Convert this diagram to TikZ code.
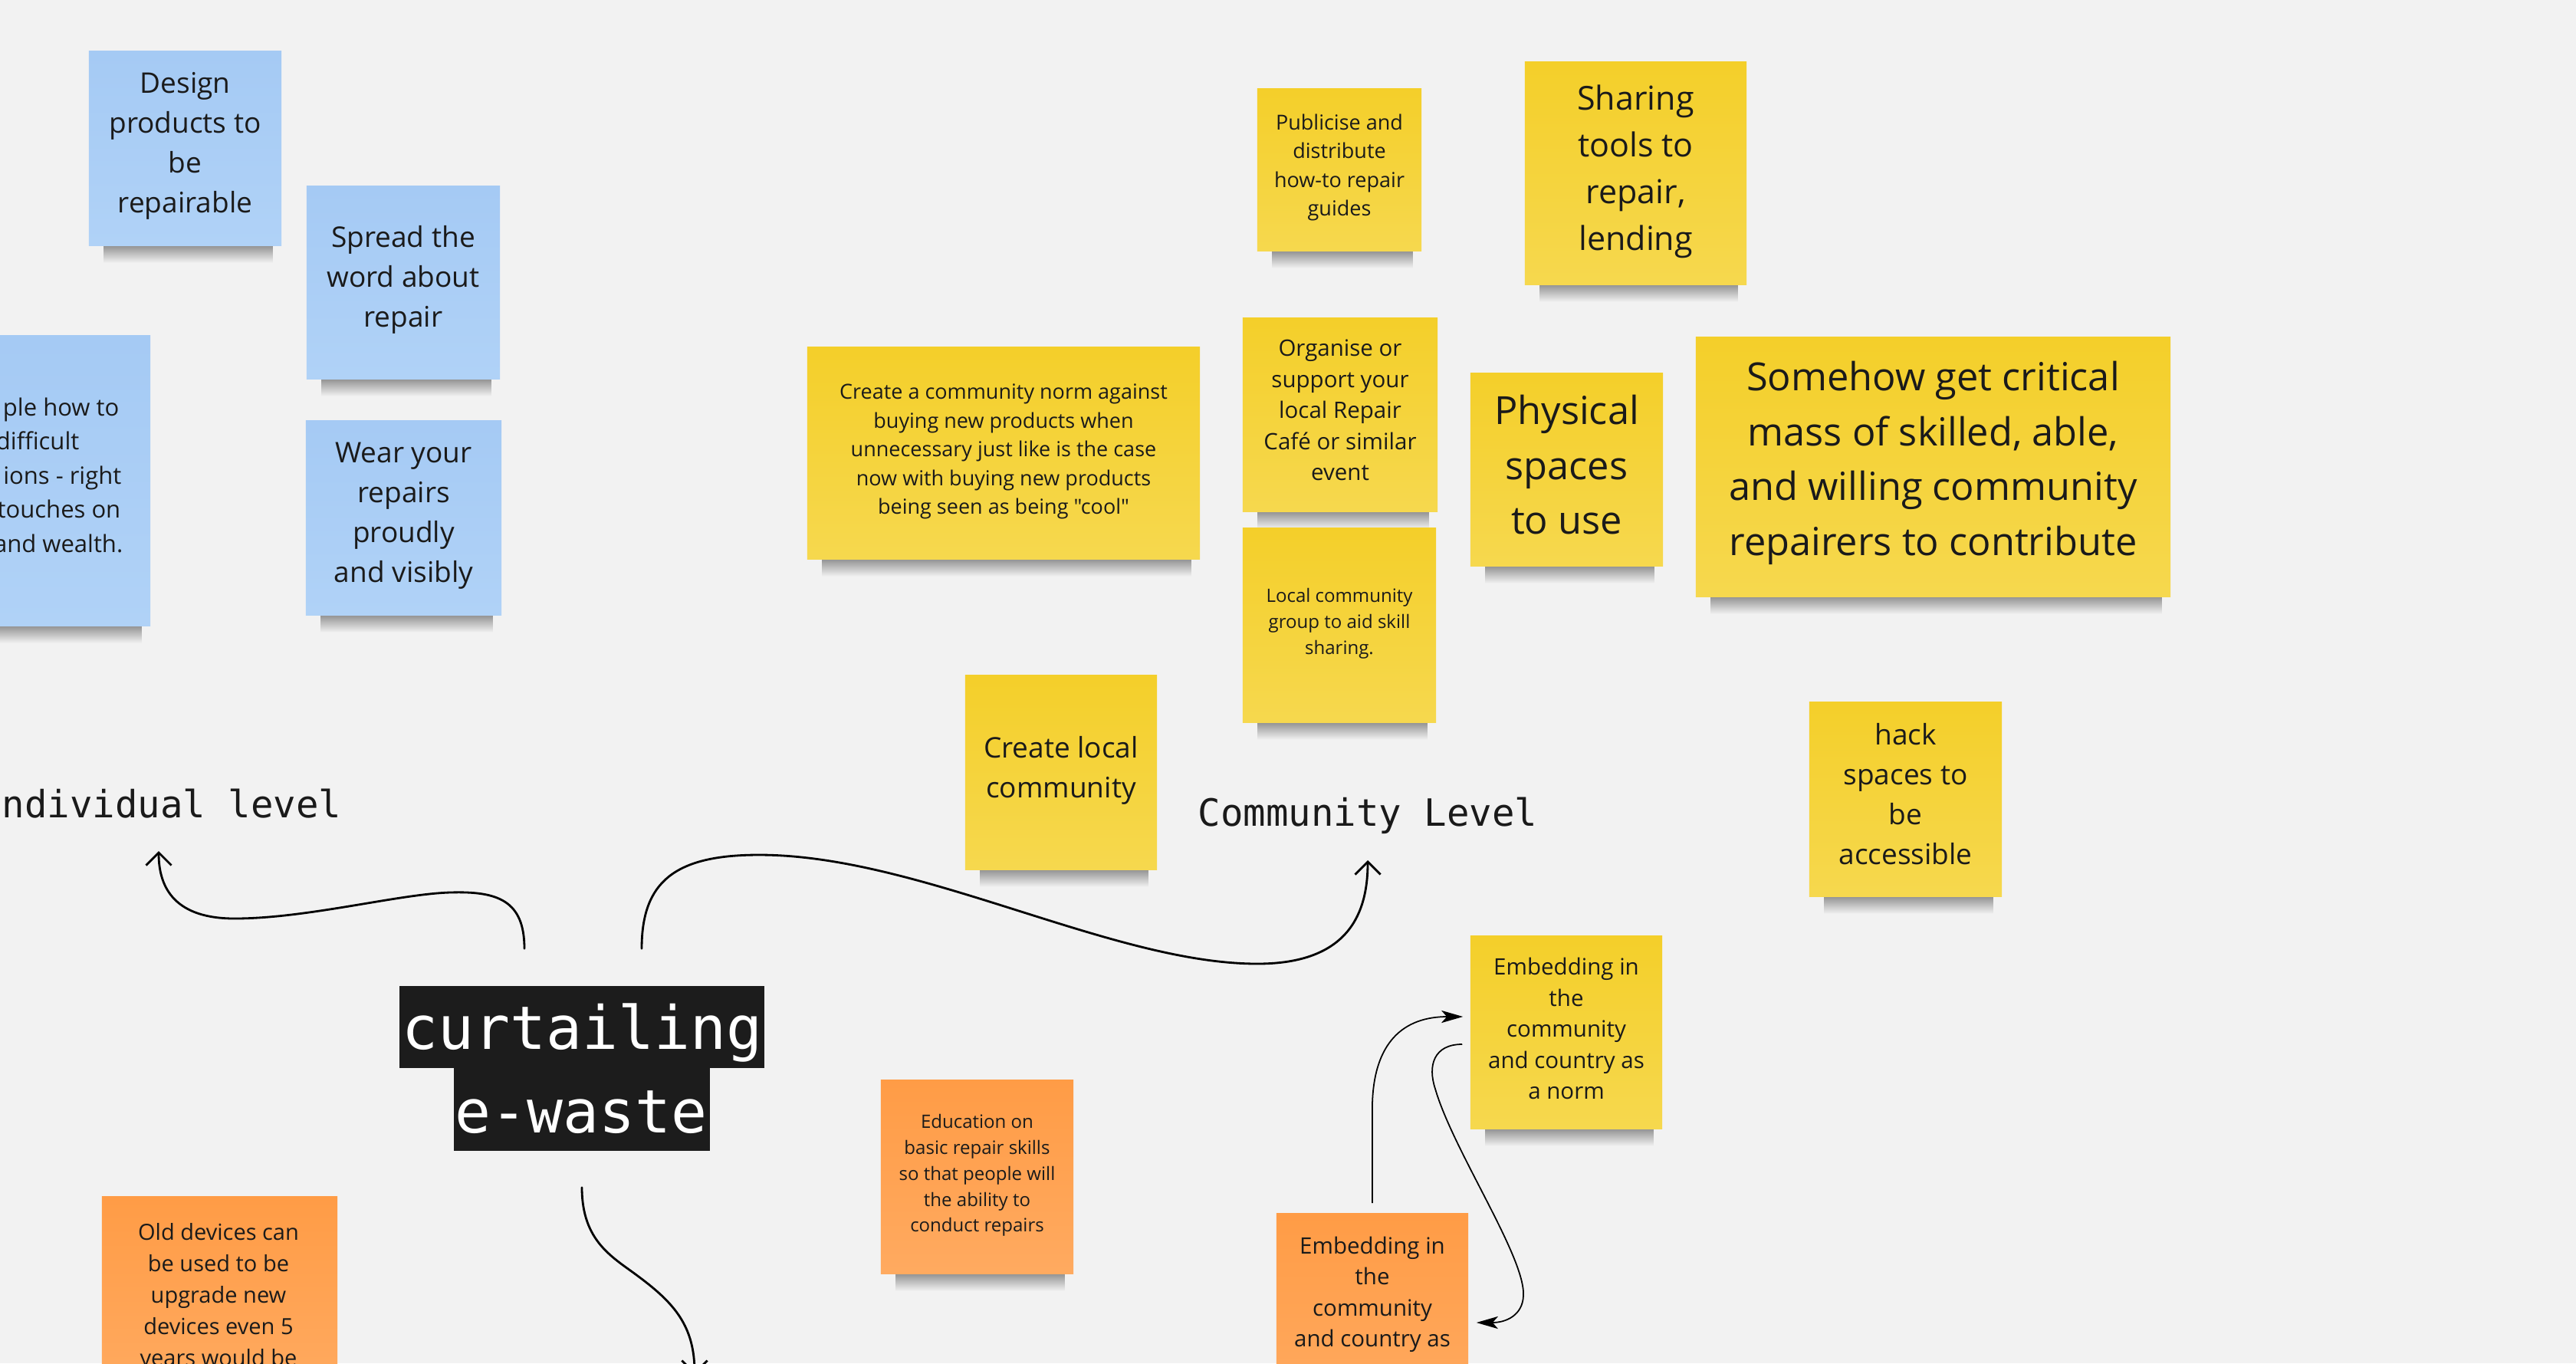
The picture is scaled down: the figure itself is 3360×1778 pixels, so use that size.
\documentclass[tikz,border=0pt]{standalone}
\usepackage{fontspec}
\setmainfont{Open Sans}
\newfontfamily\monofont{DejaVu Sans Mono}
\usetikzlibrary{arrows.meta,calc}
\definecolor{bg}{HTML}{F2F2F2}
\definecolor{ink}{HTML}{1A1A1A}
\definecolor{blueT}{HTML}{A5CAF4}
\definecolor{blueB}{HTML}{B0D2F7}
\definecolor{yelT}{HTML}{F4CF2A}
\definecolor{yelB}{HTML}{F6D84E}
\definecolor{orT}{HTML}{FF9C46}
\definecolor{orB}{HTML}{FFAA60}
\definecolor{boxblack}{HTML}{1C1C1C}
\newcommand\szA{\fontsize{10.53pt}{14.8pt}\selectfont}
\newcommand\szB{\fontsize{8.82pt}{12.66pt}\selectfont}
\newcommand\szC{\fontsize{6.83pt}{9.62pt}\selectfont}
\newcommand\szD{\fontsize{7.68pt}{10.67pt}\selectfont}
\newcommand\szE{\fontsize{8.39pt}{11.52pt}\selectfont}
\newcommand\szF{\fontsize{12.23pt}{17.36pt}\selectfont}
\newcommand\szG{\fontsize{14.37pt}{20.34pt}\selectfont}
\newcommand\szH{\fontsize{8.25pt}{11.67pt}\selectfont}
\pgfdeclarelayer{bgl}
\pgfdeclarelayer{shl}
\pgfsetlayers{bgl,shl,main}
\tikzset{
  note/.style={rectangle, inner sep=0pt},
  bluenote/.style={note, top color=blueT, bottom color=blueB},
  yelnote/.style={note, top color=yelT, bottom color=yelB},
  ornote/.style={note, top color=orT, bottom color=orB},
  notetext/.style={inner sep=0pt, align=center, text=ink},
  lbl/.style={inner sep=0pt, text=ink, font=\monofont\fontsize{13.94pt}{16pt}\selectfont},
  curtbox/.style={rectangle, fill=boxblack, inner sep=0pt},
  curttext/.style={inner sep=0pt, text=white, font=\monofont\fontsize{22.2pt}{26pt}\selectfont},
  thickarrow/.style={line width=0.8pt, line cap=round, -{Straight Barb[length=4.7pt,width=9.4pt]}},
  thinarrow/.style={line width=0.5pt, -{Stealth[length=8pt,width=4.6pt,inset=2pt]}}
}
\begin{document}
\begin{tikzpicture}[x=0.01cm,y=-0.01cm]
\useasboundingbox (0,0) rectangle (3360,1778);
\begin{pgfonlayer}{bgl}
\fill[bg] (0,0) rectangle (3360,1778);
\end{pgfonlayer}

% blue notes
\node[bluenote, minimum width=2.51cm, minimum height=2.53cm,
  label={[notetext, name=designT, font=\szA, yshift=0.035cm]center:{Design\\products to\\be\\repairable}}] (design) at (241.5,193.5) {};
\node[bluenote, minimum width=2.52cm, minimum height=2.51cm,
  label={[notetext, name=spreadT, font=\szA, yshift=0.04cm]center:{Spread the\\word about\\repair}}] (spread) at (526,368.5) {};
\node[bluenote, minimum width=2.55cm, minimum height=2.53cm,
  label={[notetext, name=wearT, font=\szA, yshift=0.025cm]center:{Wear your\\repairs\\proudly\\and visibly}}] (wear) at (526.5,675.5) {};
\node[bluenote, minimum width=2.16cm, minimum height=3.78cm] (leftblue) at (88,627) {};
\node[notetext, font=\szB, anchor=base east] (lb1) at (156,542) {ple how to};
\node[notetext, font=\szB, anchor=base east] (lb2) at (104,586) {difficult};
\node[notetext, font=\szB, anchor=base east] (lb3) at (159,631) {ions - right};
\node[notetext, font=\szB, anchor=base east] (lb4) at (158,675) {touches on};
\node[notetext, font=\szB, anchor=base east] (lb5) at (161,720) {and wealth.};

% yellow notes
\node[yelnote, minimum width=2.14cm, minimum height=2.11cm,
  label={[notetext, name=publiciseT, font=\szD, yshift=0.03cm]center:{Publicise and\\distribute\\how-to repair\\guides}}] (publicise) at (1747,221.5) {};
\node[yelnote, minimum width=2.89cm, minimum height=2.90cm,
  label={[notetext, name=sharingT, font=\szF, yshift=0.025cm]center:{Sharing\\tools to\\repair,\\lending}}] (sharing) at (2133.5,226) {};
\node[yelnote, minimum width=5.12cm, minimum height=2.76cm,
  label={[notetext, name=normT, font=\szD, yshift=0.02cm]center:{Create a community norm against\\buying new products when\\unnecessary just like is the case\\now with buying new products\\being seen as being {\addfontfeatures{Ligatures=TeXOff}"cool"}}}] (norm) at (1309,591) {};
\node[yelnote, minimum width=2.54cm, minimum height=2.52cm,
  label={[notetext, name=organiseT, font=\szE, yshift=0.06cm]center:{Organise or\\support your\\local Repair\\Café or similar\\event}}] (organise) at (1748,541) {};
\node[yelnote, minimum width=2.51cm, minimum height=2.51cm,
  label={[notetext, name=physicalT, font=\szG, yshift=0.06cm]center:{Physical\\spaces\\to use}}] (physical) at (2043.5,612.5) {};
\node[yelnote, minimum width=6.19cm, minimum height=3.38cm,
  label={[notetext, name=somehowT, font=\szG, yshift=0.05cm]center:{Somehow get critical\\mass of skilled, able,\\and willing community\\repairers to contribute}}] (somehow) at (2521.5,609) {};
\node[yelnote, minimum width=2.52cm, minimum height=2.53cm,
  label={[notetext, name=localgroupT, font=\szC, yshift=0.02cm]center:{Local community\\group to aid skill\\sharing.}}] (localgroup) at (1747,815.5) {};
\node[yelnote, minimum width=2.50cm, minimum height=2.53cm,
  label={[notetext, name=createlocalT, font=\szA, yshift=0.03cm]center:{Create local\\community}}] (createlocal) at (1384,1007.5) {};
\node[yelnote, minimum width=2.51cm, minimum height=2.53cm,
  label={[notetext, name=hackT, font=\szA, yshift=0.07cm]center:{hack\\spaces to\\be\\accessible}}] (hack) at (2485.5,1042.5) {};
\node[yelnote, minimum width=2.50cm, minimum height=2.51cm,
  label={[notetext, name=embedYT, font=\szE, yshift=0.05cm]center:{Embedding in\\the\\community\\and country as\\a norm}}] (embedY) at (2043,1346.5) {};

% orange notes
\node[ornote, minimum width=2.51cm, minimum height=2.52cm,
  label={[notetext, name=educationT, font=\szC, yshift=0.02cm]center:{Education on\\basic repair skills\\so that people will\\the ability to\\conduct repairs}}] (education) at (1274.5,1535) {};
\node[ornote, minimum width=2.50cm, minimum height=2.52cm] (embedO) at (1790,1709) {};
\node[notetext, font=\szE, anchor=north] (embedOtext) at (1790,1612) {Embedding in\\the\\community\\and country as};
\node[ornote, minimum width=3.07cm, minimum height=2.54cm] (olddev) at (286.5,1688) {};
\node[notetext, font=\szH, anchor=north] (olddevtext) at (285,1595) {Old devices can\\be used to be\\upgrade new\\devices even 5\\years would be};

% shadows
\begin{pgfonlayer}{shl}
\foreach \n in {design,spread,wear,leftblue,publicise,sharing,norm,organise,physical,somehow,localgroup,createlocal,hack,embedY,education}
  \shade[top color=black!42!bg, bottom color=bg] ($(\n.south west)+(20,-2)$) rectangle ($(\n.south east)+(-12,22)$);
\end{pgfonlayer}

% labels
\node[lbl, anchor=base west] (indiv) at (2,1066) {ndividual level};
\node[lbl, anchor=base west] (commlvl) at (1562,1077) {Community Level};

% central title
\node[curtbox, minimum width=4.76cm, minimum height=1.07cm] (curt1) at (759,1339.5) {};
\node[curtbox, minimum width=3.34cm, minimum height=1.08cm] (curt2) at (759,1447) {};
\node[curttext, anchor=base] (curt1t) at (760,1368) {curtailing};
\node[curttext, anchor=base] (curt2t) at (758,1477) {e-waste};

% connectors
\coordinate (indivTip) at (207,1110);
\coordinate (commTip) at (1784,1122);
\coordinate (downTip) at (906,1793);
\draw[thickarrow] ($(curt1.north)+(-75,-48)$) .. controls (684,1175) and (650,1162) .. (587,1164)
  .. controls (520,1166) and (400,1198) .. (306,1198)
  .. controls (230,1198) and (207,1160) .. (indivTip);
\draw[thickarrow] ($(curt1.north)+(78,-48)$) .. controls (837,1150) and (880,1115) .. (990,1115)
  .. controls (1200,1115) and (1450,1257) .. (1640,1257)
  .. controls (1760,1257) and (1784,1190) .. (commTip);
\draw[thickarrow] ($(curt2.south)+(0,47)$) .. controls (759,1620) and (800,1640) .. (833,1665)
  .. controls (880,1700) and (906,1730) .. (downTip);
\draw[thinarrow] ($(embedO.north)+(0,-13)$) -- (1790,1440)
  .. controls (1792,1360) and (1830,1326) .. ($(embedY.west)+(-9,-20.5)$);
\draw[thinarrow] ($(embedY.west)+(-10,15.5)$) .. controls (1870,1362) and (1862,1390) .. (1872,1420)
  .. controls (1895,1500) and (1990,1640) .. (1987,1690)
  .. controls (1986,1715) and (1965,1725) .. ($(embedO.east)+(10,16)$);
\end{tikzpicture}
\end{document}
